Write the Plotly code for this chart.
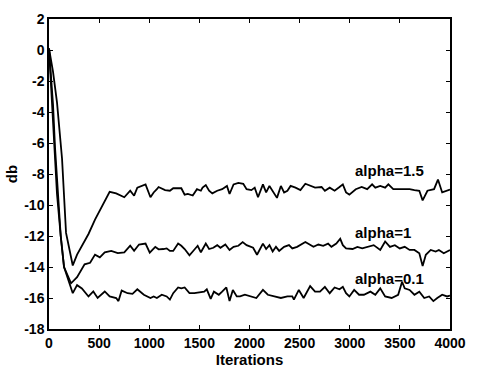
import plotly.graph_objects as go

# ---- data ----
iter_a15 = [0, 40, 80, 110, 130, 170, 237, 280, 328, 394, 459, 524, 605, 670, 751, 810, 849, 881, 963,
            1012, 1044, 1076, 1093, 1158, 1206, 1239, 1320, 1353, 1385, 1434, 1476, 1515, 1532, 1564, 1597,
            1629, 1678, 1727, 1775, 1801, 1841, 1889, 1938, 1971, 2019, 2052, 2085, 2134, 2166, 2199, 2231,
            2274, 2313, 2345, 2378, 2410, 2459, 2508, 2557, 2605, 2654, 2719, 2752, 2800, 2849, 2898, 2931,
            2963, 2996, 3060, 3119, 3174, 3223, 3255, 3304, 3353, 3385, 3434, 3515, 3597, 3645, 3694, 3727,
            3775, 3841, 3880, 3922, 3971, 4000]
db_a15 = [0.1, -1.4, -3.4, -5.4, -7.0, -11.8, -13.9, -13.2, -12.6, -11.87, -10.94, -10.1, -9.15, -9.25,
          -9.5, -9.08, -9.4, -8.88, -8.67, -9.5, -9.19, -8.98, -8.84, -9.04, -9.08, -8.92, -8.92, -9.33,
          -9.29, -9.39, -8.98, -9.08, -8.88, -8.71, -9.08, -9.25, -9.08, -8.98, -8.77, -9.29, -8.67, -8.57,
          -8.63, -8.98, -9.04, -8.88, -9.5, -8.67, -9.19, -8.77, -9.08, -9.54, -8.77, -9.19, -9.08, -8.77,
          -8.88, -9.04, -8.63, -8.77, -8.88, -8.84, -9.08, -8.88, -9.08, -8.84, -8.67, -9.19, -9.33, -8.98,
          -8.84, -8.98, -8.67, -8.88, -8.77, -8.88, -8.67, -8.98, -8.98, -8.98, -9.04, -9.08, -9.7, -9.08,
          -8.98, -8.36, -9.19, -9.08, -9.0]

iter_a1 = [0, 40, 60, 90, 117, 150, 220, 280, 355, 410, 459, 507, 556, 621, 686, 751, 810, 849, 898, 963,
           1005, 1060, 1093, 1141, 1174, 1206, 1239, 1288, 1320, 1353, 1401, 1434, 1483, 1515, 1564, 1597,
           1639, 1678, 1710, 1759, 1801, 1841, 1889, 1932, 1971, 2036, 2075, 2134, 2166, 2199, 2231, 2264,
           2296, 2345, 2394, 2427, 2475, 2557, 2605, 2638, 2687, 2735, 2784, 2817, 2866, 2905, 2931, 2963,
           3028, 3076, 3125, 3174, 3239, 3304, 3353, 3401, 3450, 3499, 3548, 3597, 3645, 3694, 3727, 3759,
           3808, 3857, 3889, 3938, 3971, 4000]
db_a1 = [0.1, -3.5, -6.3, -9.3, -12.0, -14.0, -15.05, -14.66, -13.83, -13.73, -13.2, -13.38, -13.05,
         -12.96, -13.1, -13.05, -12.63, -12.96, -12.55, -12.49, -13.07, -12.7, -12.86, -12.84, -12.8,
         -12.96, -12.96, -12.49, -12.63, -12.84, -13.25, -13.0, -12.63, -13.05, -12.49, -12.84, -12.76,
         -12.59, -12.76, -12.55, -12.9, -12.7, -12.63, -12.39, -12.59, -12.76, -13.21, -12.49, -12.84,
         -12.59, -13.0, -12.7, -12.96, -12.7, -12.59, -12.8, -12.7, -12.39, -12.59, -12.7, -12.55, -12.63,
         -12.49, -12.7, -12.49, -12.18, -12.59, -12.8, -12.84, -12.7, -12.8, -12.7, -12.59, -12.9, -12.35,
         -12.7, -12.59, -12.8, -12.7, -12.9, -12.9, -13.11, -13.93, -13.21, -12.9, -13.0, -12.9, -13.11,
         -13.0, -12.9]

iter_a01 = [0, 30, 50, 80, 117, 150, 237, 280, 328, 394, 442, 485, 556, 605, 670, 693, 725, 784, 833, 881,
            946, 1012, 1044, 1076, 1125, 1174, 1206, 1239, 1288, 1320, 1353, 1401, 1450, 1499, 1548, 1574,
            1613, 1645, 1694, 1727, 1769, 1801, 1834, 1873, 1906, 1954, 2003, 2068, 2134, 2183, 2248, 2313,
            2378, 2427, 2443, 2492, 2540, 2605, 2654, 2703, 2752, 2800, 2849, 2898, 2931, 2963, 2996, 3044,
            3093, 3141, 3206, 3255, 3304, 3353, 3418, 3483, 3522, 3548, 3597, 3645, 3694, 3743, 3792, 3834,
            3873, 3922, 3971, 4000]
db_a01 = [0.1, -3.5, -6.3, -9.3, -12.0, -14.0, -15.69, -15.17, -15.38, -15.9, -15.58, -16.0, -15.58,
          -15.9, -16.0, -16.2, -15.52, -15.69, -15.73, -15.44, -15.79, -16.0, -15.9, -16.0, -15.79, -15.9,
          -16.1, -15.69, -15.32, -15.38, -15.32, -15.69, -15.69, -15.65, -15.59, -15.44, -16.06, -15.59,
          -15.79, -15.59, -15.32, -16.2, -15.48, -15.9, -15.9, -15.79, -15.9, -16.0, -15.48, -15.79, -15.9,
          -16.0, -15.9, -15.9, -16.1, -15.48, -16.0, -15.23, -15.59, -15.59, -15.28, -15.69, -15.32, -15.44,
          -15.28, -15.69, -15.9, -15.48, -15.79, -15.79, -15.59, -15.79, -15.38, -15.9, -16.0, -15.79,
          -14.95, -15.38, -15.48, -15.79, -15.59, -16.0, -15.9, -16.2, -16.0, -15.79, -15.9, -15.85]

series_labels = ["alpha=1.5", "alpha=1", "alpha=0.1"]
x_ticks = [0, 500, 1000, 1500, 2000, 2500, 3000, 3500, 4000]
y_ticks = [-18, -16, -14, -12, -10, -8, -6, -4, -2, 0, 2]

FONT = "Liberation Sans, Arial, sans-serif"

fig = go.Figure()
for xs, ys in [(iter_a15, db_a15), (iter_a1, db_a1), (iter_a01, db_a01)]:
    fig.add_trace(go.Scatter(x=xs, y=ys, mode="lines",
                             line=dict(color="black", width=1.8), showlegend=False))

# label positions (data coordinates)
label_pos = [(3030, -7.8), (3030, -11.75), (3030, -14.72)]
for txt, (lx, ly) in zip(series_labels, label_pos):
    fig.add_annotation(x=lx, y=ly, text=txt, showarrow=False, xanchor="left", yanchor="middle",
                       font=dict(family=FONT, size=15, color="black", weight="bold"))

axis_common = dict(showline=True, mirror="ticks", linecolor="black", linewidth=1.5,
                   ticks="inside", ticklen=4, tickcolor="black", tickwidth=1,
                   showgrid=False, zeroline=False,
                   tickfont=dict(family=FONT, size=14, color="black", weight="bold"))

fig.update_xaxes(range=[0, 4000], tickvals=x_ticks, ticktext=[str(v) for v in x_ticks],
                 title=dict(text="Iterations", standoff=1,
                            font=dict(family=FONT, size=15, color="black", weight="bold")),
                 **axis_common)
fig.update_yaxes(range=[-18, 2], tickvals=y_ticks, ticktext=[str(v) for v in y_ticks],
                 title=dict(text="db", standoff=3,
                            font=dict(family=FONT, size=15, color="black", weight="bold")),
                 **axis_common)

fig.update_layout(width=477, height=373, margin=dict(l=48, r=19, t=11, b=39),
                  plot_bgcolor="white", paper_bgcolor="white")

fig.write_html("out.html")
